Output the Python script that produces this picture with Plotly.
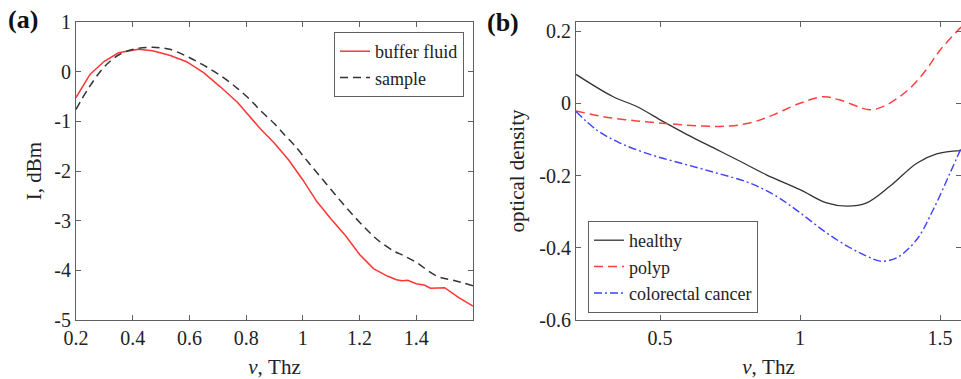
import plotly.graph_objects as go

# Panel (a): spectra
nu_a = [0.2, 0.25, 0.3, 0.35, 0.42, 0.47, 0.53, 0.59, 0.65, 0.71, 0.77, 0.82, 0.85, 0.9,
        0.95, 1.0, 1.05, 1.1, 1.15, 1.2, 1.25, 1.3, 1.33, 1.35, 1.37, 1.4, 1.43, 1.45, 1.47,
        1.5, 1.55, 1.6]
buffer_fluid = [-0.52, -0.05, 0.21, 0.38, 0.45, 0.42, 0.33, 0.20, -0.02, -0.31, -0.62, -0.95,
                -1.15, -1.44, -1.78, -2.18, -2.62, -2.97, -3.30, -3.68, -3.97, -4.12, -4.19,
                -4.21, -4.20, -4.27, -4.30, -4.36, -4.36, -4.35, -4.55, -4.72]
nu_s = [0.2, 0.24, 0.3, 0.355, 0.41, 0.47, 0.53, 0.59, 0.65, 0.71, 0.77, 0.82, 0.85, 0.9,
        0.94, 0.97, 1.02, 1.08, 1.14, 1.2, 1.26, 1.32, 1.35, 1.4, 1.47, 1.53, 1.6]
sample = [-0.76, -0.37, 0.10, 0.35, 0.46, 0.49, 0.45, 0.31, 0.13, -0.08, -0.34, -0.60, -0.78,
          -1.05, -1.30, -1.48, -1.83, -2.24, -2.65, -3.03, -3.37, -3.61, -3.69, -3.84, -4.11,
          -4.20, -4.31]

# Panel (b): optical density
nu_h = [0.2, 0.333, 0.417, 0.512, 0.595, 0.70, 0.80, 0.88, 1.0, 1.095, 1.167, 1.238, 1.321,
        1.417, 1.488, 1.575]
healthy = [0.080, 0.018, -0.009, -0.051, -0.086, -0.127, -0.166, -0.198, -0.239, -0.276,
           -0.285, -0.276, -0.230, -0.166, -0.140, -0.131]
nu_p = [0.2, 0.298, 0.417, 0.536, 0.655, 0.75, 0.833, 0.905, 1.0, 1.083, 1.143, 1.25, 1.3,
        1.35, 1.4, 1.45, 1.5, 1.575]
polyp = [-0.021, -0.037, -0.049, -0.057, -0.063, -0.063, -0.052, -0.032, 0.0, 0.018, 0.009,
         -0.018, -0.008, 0.015, 0.047, 0.092, 0.147, 0.211]
nu_c = [0.2, 0.274, 0.357, 0.47, 0.59, 0.702, 0.821, 0.917, 1.0, 1.095, 1.179, 1.238, 1.286,
        1.345, 1.417, 1.476, 1.536, 1.575]
colorectal_cancer = [-0.023, -0.074, -0.110, -0.143, -0.169, -0.193, -0.221, -0.258, -0.303,
                     -0.359, -0.400, -0.423, -0.437, -0.428, -0.377, -0.294, -0.193, -0.125]

xticks_a = [0.2, 0.4, 0.6, 0.8, 1.0, 1.2, 1.4]
xticktext_a = ["0.2", "0.4", "0.6", "0.8", "1", "1.2", "1.4"]
yticks_a = [1, 0, -1, -2, -3, -4, -5]
yticktext_a = ["1", "0", "-1", "-2", "-3", "-4", "-5"]
xticks_b = [0.5, 1.0, 1.5]
xticktext_b = ["0.5", "1", "1.5"]
yticks_b = [0.2, 0, -0.2, -0.4, -0.6]
yticktext_b = ["0.2", "0", "-0.2", "-0.4", "-0.6"]

FONT = "Liberation Serif"
W, H = 961, 379
FRAME = "#606060"

fig = go.Figure()
fig.add_trace(go.Scatter(x=nu_a, y=buffer_fluid, mode="lines", name="buffer fluid",
                         line=dict(color="#ff3535", width=1.5), xaxis="x", yaxis="y",
                         legend="legend"))
fig.add_trace(go.Scatter(x=nu_s, y=sample, mode="lines", name="sample",
                         line=dict(color="#333333", width=1.5, dash="8px,5px", shape="spline"),
                         xaxis="x", yaxis="y", legend="legend"))
fig.add_trace(go.Scatter(x=nu_h, y=healthy, mode="lines", name="healthy",
                         line=dict(color="#333333", width=1.3, shape="spline"),
                         xaxis="x2", yaxis="y2", legend="legend2"))
fig.add_trace(go.Scatter(x=nu_p, y=polyp, mode="lines", name="polyp",
                         line=dict(color="#ff4040", width=1.5, dash="9px,5px", shape="spline"),
                         xaxis="x2", yaxis="y2", legend="legend2"))
fig.add_trace(go.Scatter(x=nu_c, y=colorectal_cancer, mode="lines", name="colorectal cancer",
                         line=dict(color="#4040ff", width=1.4, dash="8px,3px,2px,3px",
                                   shape="spline"),
                         xaxis="x2", yaxis="y2", legend="legend2"))

axis_common = dict(showline=True, linecolor=FRAME, linewidth=1.2, mirror="ticks",
                   ticks="inside", ticklen=5, tickcolor=FRAME, showgrid=False, zeroline=False,
                   tickfont=dict(family=FONT, size=20, color="#222"))
ydom = [1 - 320 / H, 1 - 22 / H]
title_font = dict(family=FONT, size=21, color="#222")
fig.update_layout(
    width=W, height=H, margin=dict(l=0, r=0, t=0, b=0, autoexpand=False),
    paper_bgcolor="white", plot_bgcolor="white",
    font=dict(family=FONT, size=20, color="#222"),
    showlegend=True,
    xaxis=dict(domain=[76 / W, 473 / W], range=[0.2, 1.6], tickvals=xticks_a,
               ticktext=xticktext_a, anchor="y",
               title=dict(text="<i>ν</i>, Thz", font=title_font, standoff=12),
               **axis_common),
    yaxis=dict(domain=ydom, range=[-5, 1], tickvals=yticks_a, ticktext=yticktext_a,
               anchor="x",
               title=dict(text="I, dBm", font=title_font, standoff=6),
               **axis_common),
    xaxis2=dict(domain=[576 / W, 1.0], range=[0.2, 1.575], tickvals=xticks_b,
                ticktext=xticktext_b, anchor="y2",
                title=dict(text="<i>ν</i>, Thz", font=title_font, standoff=12),
                **axis_common),
    yaxis2=dict(domain=ydom, range=[-0.6, 0.225], tickvals=yticks_b, ticktext=yticktext_b,
                anchor="x2",
                title=dict(text="optical density", font=title_font, standoff=8),
                **axis_common),
    legend=dict(x=464 / W, y=1 - 32 / H, xanchor="right", yanchor="top",
                bgcolor="white", bordercolor=FRAME, borderwidth=1,
                font=dict(family=FONT, size=18, color="#222"), tracegroupgap=0),
    legend2=dict(x=588 / W, y=1 - 221 / H, xanchor="left", yanchor="top",
                 bgcolor="white", bordercolor=FRAME, borderwidth=1,
                 font=dict(family=FONT, size=18, color="#222"), tracegroupgap=0),
    annotations=[
        dict(text="<b>(a)</b>", x=6 / W, y=1 - 20 / H, xref="paper", yref="paper",
             xanchor="left", yanchor="middle", showarrow=False,
             font=dict(family=FONT, size=26, color="#111")),
        dict(text="<b>(b)</b>", x=485 / W, y=1 - 22 / H, xref="paper", yref="paper",
             xanchor="left", yanchor="middle", showarrow=False,
             font=dict(family=FONT, size=26, color="#111")),
    ],
)

fig.write_html("out.html", config={"displayModeBar": False},
               post_script="document.body.style.margin='0';"
                           "document.body.style.overflow='hidden';")
